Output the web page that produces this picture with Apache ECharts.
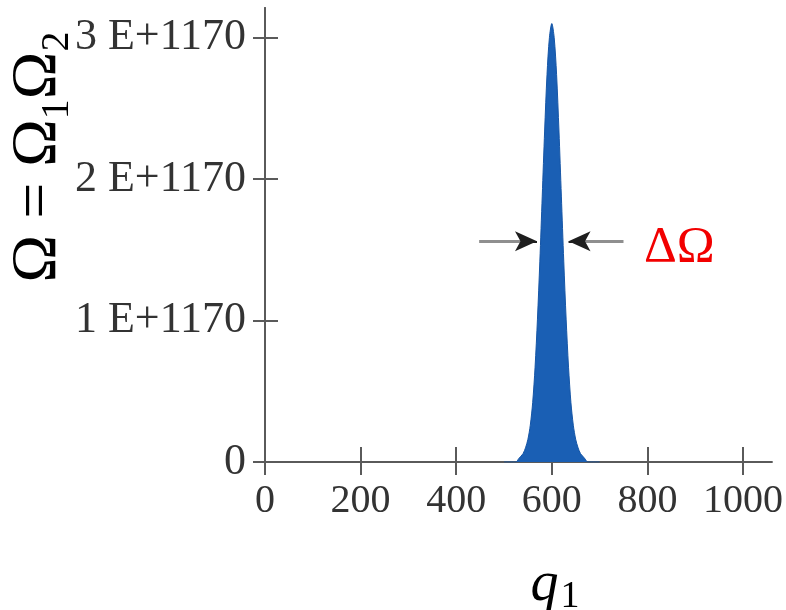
<!DOCTYPE html>
<html><head><meta charset="utf-8">
<script src="https://cdn.jsdelivr.net/npm/echarts@6/dist/echarts.min.js"></script>
<style>html,body{margin:0;padding:0;background:#fff}#c{width:786px;height:610px}</style>
</head><body><div id="c"></div>
<script>
// q1 values and Omega values (in units of 1 E+1170)
const q1Values = [500, 525, 530, 535, 540, 545, 550, 555, 560, 565, 570, 575, 580, 585, 590, 595, 600, 605, 610, 615, 620, 625, 630, 635, 640, 645, 650, 655, 660, 665, 670, 675, 700];
const omegaValues = [0, 0, 0.02, 0.04, 0.06, 0.10, 0.16, 0.26, 0.42, 0.67, 1.01, 1.42, 1.88, 2.34, 2.74, 3.00, 3.10, 3.00, 2.74, 2.34, 1.88, 1.42, 1.01, 0.67, 0.42, 0.26, 0.16, 0.10, 0.06, 0.04, 0.02, 0, 0];
const xTicks = [0, 200, 400, 600, 800, 1000];
const xTickLabels = ['0', '200', '400', '600', '800', '1000'];
const yTicks = [0, 1, 2, 3];
const yTickLabels = ['0', '1 E+1170', '2 E+1170', '3 E+1170'];
const arrowLevel = 1.56;
const arrowLeft = [448, 569];
const arrowRight = [750, 635];
const arrowHeadLeft = [540, 569];
const arrowHeadRight = [665, 635];

const font = 'Liberation Serif';
const axisColor = '#5a5a5a';
const chart = echarts.init(document.getElementById('c'), null, {renderer: 'canvas'});

function xAxisDef(inside, show) {
  return {
    type: 'value', min: 0, max: 1060, position: 'bottom',
    axisLine: {show: true, onZero: false, lineStyle: {color: axisColor, width: 2}},
    axisTick: {show: true, inside: inside, length: inside ? 15 : 13, customValues: xTicks, lineStyle: {color: axisColor, width: 2}},
    axisLabel: {show: show, customValues: xTicks, margin: 19, fontFamily: font, fontSize: 40, color: '#333',
      formatter: v => xTickLabels[xTicks.indexOf(v)]},
    splitLine: {show: false}
  };
}
function yAxisDef(inside, show) {
  return {
    type: 'value', min: 0, max: 3.21, position: 'left',
    axisLine: {show: true, onZero: false, lineStyle: {color: axisColor, width: 2}},
    axisTick: {show: true, inside: inside, length: inside ? 13 : 12, customValues: yTicks, lineStyle: {color: axisColor, width: 2}},
    axisLabel: {show: show, customValues: yTicks, margin: 19, fontFamily: font, fontSize: 44, color: '#333',
      formatter: v => yTickLabels[yTicks.indexOf(v)]},
    splitLine: {show: false}
  };
}

chart.setOption({
  backgroundColor: '#fff',
  animation: false,
  grid: {left: 265, right: 11, top: 8, bottom: 148, containLabel: false},
  xAxis: [xAxisDef(false, true), xAxisDef(true, false)],
  yAxis: [yAxisDef(false, true), yAxisDef(true, false)],
  series: [{
    type: 'line',
    data: q1Values.map((q, i) => [q, omegaValues[i]]),
    showSymbol: false,
    smooth: 0.3,
    lineStyle: {color: '#1656a6', width: 1},
    areaStyle: {color: '#1a5fb4', opacity: 1},
    z: 2,
    markLine: {
      silent: true,
      symbol: ['none', 'none'],
      label: {show: false},
      lineStyle: {color: '#8f8f8f', width: 3, type: 'solid'},
      data: [
        [{coord: [arrowLeft[0], arrowLevel]}, {coord: [arrowLeft[1] - 10, arrowLevel]}],
        [{coord: [arrowRight[0], arrowLevel]}, {coord: [arrowRight[1] + 10, arrowLevel]}]
      ]
    }
  }, {
    type: 'line',
    data: [],
    markLine: {
      silent: true,
      symbol: ['none', 'arrow'],
      symbolSize: [15, 22],
      label: {show: false},
      lineStyle: {color: '#1e1e1e', width: 2, type: 'solid'},
      data: [
        [{coord: [arrowHeadLeft[0], arrowLevel]}, {coord: [arrowHeadLeft[1], arrowLevel]}],
        [{coord: [arrowHeadRight[0], arrowLevel]}, {coord: [arrowHeadRight[1], arrowLevel]}]
      ]
    }
  }],
  graphic: [
    {
      type: 'text', x: 38, y: 157, rotation: Math.PI / 2,
      style: {
        text: '{a|Ω = Ω}{s|1}{a|Ω}{s|2}',
        align: 'center', verticalAlign: 'middle',
        rich: {
          a: {fontFamily: font, fontSize: 64, fill: '#000', lineHeight: 70},
          s: {fontFamily: font, fontSize: 40, fill: '#000', lineHeight: 70, padding: [38, 0, 0, 0]}
        }
      }
    },
    {
      type: 'text', left: 644, top: 222,
      style: {text: 'ΔΩ', fontFamily: font, fontSize: 51, fill: '#f20000'}
    },
    {
      type: 'text', x: 555, y: 585,
      style: {
        text: '{q|q}{s|1}', align: 'center', verticalAlign: 'middle',
        rich: {
          q: {fontFamily: font, fontStyle: 'italic', fontSize: 56, fill: '#000', lineHeight: 60},
          s: {fontFamily: font, fontSize: 38, fill: '#000', lineHeight: 60, padding: [24, 0, 0, 2]}
        }
      }
    }
  ]
});
</script>
</body></html>
